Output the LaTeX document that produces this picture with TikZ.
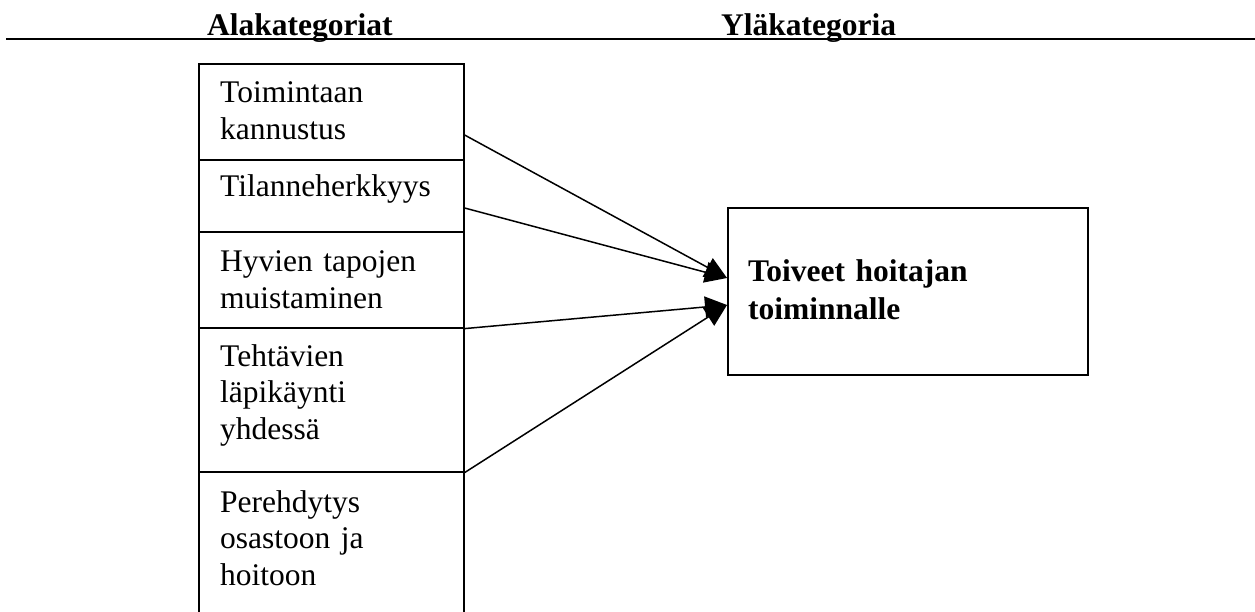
\documentclass[tikz,border=0pt]{standalone}
\usepackage{fontspec}
\setmainfont{Liberation Serif}
\usetikzlibrary{arrows.meta,calc}
\begin{document}
\begin{tikzpicture}[x=1pt,y=-1pt,
  cell/.style={draw,line width=1.6pt,rectangle,inner sep=0pt,anchor=north west,minimum width=265pt},
  celltext/.style={anchor=base west,inner sep=0pt,text width=240pt,align=left,font=\fontsize{31.5}{36.5}\selectfont},
  head/.style={anchor=base west,inner sep=0pt,font=\fontsize{31.5}{36.5}\selectfont\bfseries},
  link/.style={line width=1.5pt,-{Triangle[length=22pt,width=21pt]}}]
  \clip (0,0) rectangle (1255,612);

  % header rule and column titles
  \draw[line width=2pt] (6,39) -- (1255,39);
  \node[head] (hsub) at (207,36) {Alakategoriat};
  \node[head] (hmain) at (721,36) {Yläkategoria};

  % sub-category column
  \node[cell,minimum height=96pt]  (cellA) at (198,63)  {};
  \node[cell,minimum height=72pt]  (cellB) at (198,159) {};
  \node[cell,minimum height=96pt]  (cellC) at (198,231) {};
  \node[cell,minimum height=144pt] (cellD) at (198,327) {};
  \node[cell,minimum height=150pt] (cellE) at (198,471) {};

  \node[celltext] (tA) at (220,103) {Toimintaan\\kannustus};
  \node[celltext] (tB) at (220,197) {Tilanneherkkyys};
  \node[celltext] (tC) at (220,272) {Hyvien tapojen\\muistaminen};
  \node[celltext] (tD) at (220,366) {Tehtävien\\läpikäynti\\yhdessä};
  \node[celltext] (tE) at (220,512) {Perehdytys\\osastoon ja\\hoitoon};

  % main category
  \node[draw,line width=1.6pt,rectangle,inner sep=0pt,anchor=north west,
        minimum width=360pt,minimum height=167pt] (goal) at (727,207) {};
  \node[celltext,font=\fontsize{31.5}{38}\selectfont\bfseries,text width=320pt] (tgoal) at (748,282)
    {Toiveet hoitajan\\toiminnalle};

  % connectors
  \draw[link] ($(cellA.north east)+(0,72)$) -- ($(goal.north west)+(0,71)$);
  \draw[link] ($(cellB.north east)+(0,49)$) -- ($(goal.north west)+(0,71)$);
  \draw[link] (cellC.south east) -- ($(goal.north west)+(0,98)$);
  \draw[link] (cellD.south east) -- ($(goal.north west)+(0,98)$);
\end{tikzpicture}
\end{document}
